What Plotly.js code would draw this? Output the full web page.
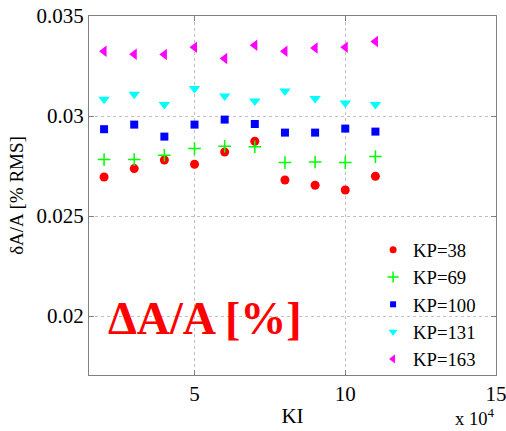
<!DOCTYPE html>
<html>
<head>
<meta charset="utf-8">
<script src="https://cdn.plot.ly/plotly-3.0.1.min.js"></script>
<style>html,body{margin:0;padding:0;background:#fff;}</style>
</head>
<body>
<div id="chart" style="width:506px;height:431px;"></div>
<script>
const KI = [2, 3, 4, 5, 6, 7, 8, 9, 10, 11];
const kp38  = [0.02695, 0.02737, 0.0278, 0.02759, 0.0282, 0.02874, 0.0268, 0.02654, 0.0263, 0.02699];
const kp69  = [0.02782, 0.02782, 0.02804, 0.02837, 0.02849, 0.02846, 0.02767, 0.0277, 0.02767, 0.02797];
const kp100 = [0.02934, 0.02957, 0.02897, 0.02957, 0.02982, 0.0296, 0.02917, 0.02917, 0.02937, 0.02922];
const kp131 = [0.03084, 0.03109, 0.03057, 0.03137, 0.031, 0.03075, 0.03125, 0.03087, 0.03065, 0.03057];
const kp163 = [0.03324, 0.03309, 0.03307, 0.03344, 0.03287, 0.03354, 0.03324, 0.0334, 0.03344, 0.03372];
const seriesNames = ["KP=38", "KP=69", "KP=100", "KP=131", "KP=163"];
const xTickVals = [5, 10, 15];
const xTickText = ["5", "10", "15"];
const yTickVals = [0.02, 0.025, 0.03, 0.035];
const yTickText = ["0.02", "0.025", "0.03", "0.035"];

const serif = "'Liberation Serif', 'Times New Roman', Times, serif";
const styles = [
  {symbol: "circle", color: "#ff0000", size: 9, line: {width: 0}},
  {symbol: "cross-thin", color: "#00ff00", size: 9, line: {color: "#00ff00", width: 1.5}},
  {symbol: "square", color: "#0000ff", size: 8, line: {width: 0}},
  {symbol: "triangle-down", color: "#00ffff", size: 10, line: {width: 0}},
  {symbol: "triangle-left", color: "#ff00ff", size: 10, line: {width: 0}}
];
const legendSizes = [7, 8, 6, 8, 8];
const ys = [kp38, kp69, kp100, kp131, kp163];
const traces = [];
ys.forEach((y, i) => {
  traces.push({
    x: KI, y: y, type: "scatter", mode: "markers", name: seriesNames[i],
    legendgroup: "g" + i, showlegend: false, marker: styles[i]
  });
});
ys.forEach((y, i) => {
  traces.push({
    x: [null], y: [null], type: "scatter", mode: "markers", name: seriesNames[i],
    legendgroup: "g" + i, showlegend: true,
    marker: Object.assign({}, styles[i], {size: legendSizes[i]})
  });
});

const axisCommon = {
  showline: true, linecolor: "#808080", linewidth: 1, mirror: "ticks",
  ticks: "inside", ticklen: 5, tickcolor: "#808080",
  showgrid: true, gridcolor: "#c0c0c0", griddash: "dot", gridwidth: 1,
  zeroline: false, ticklabeloverflow: "allow",
  tickfont: {family: serif, size: 21, color: "#000"}
};
const layout = {
  width: 506, height: 431,
  margin: {l: 89, r: 10, t: 16, b: 56},
  paper_bgcolor: "#fff", plot_bgcolor: "#fff",
  showlegend: true,
  legend: {x: 0.698, y: 0.401, xanchor: "left", yanchor: "top", bgcolor: "rgba(0,0,0,0)",
           font: {family: serif, size: 18.7, color: "#000"}, tracegroupgap: 0, itemsizing: "trace"},
  xaxis: Object.assign({}, axisCommon, {range: [1.5, 15], tickvals: xTickVals, ticktext: xTickText,
    title: {text: "KI", font: {family: serif, size: 21, color: "#000"}, standoff: 3}}),
  yaxis: Object.assign({}, axisCommon, {range: [0.01705, 0.035], tickvals: yTickVals, ticktext: yTickText,
    title: {text: "δA/A [% RMS]", font: {family: serif, size: 19, color: "#000"}, standoff: 7}}),
  annotations: [
    {xref: "paper", yref: "paper", x: 1.0, y: -0.155, xanchor: "right", yanchor: "bottom",
     text: "x 10<sup>4</sup>", showarrow: false, font: {family: serif, size: 18.5, color: "#000"}},
    {xref: "paper", yref: "paper", x: 0.285, y: 0.156, xanchor: "center", yanchor: "middle",
     text: "<b>ΔA/A [%]</b>", showarrow: false, font: {family: serif, size: 46, color: "#ff0000"}}
  ]
};
Plotly.newPlot("chart", traces, layout, {displayModeBar: false, staticPlot: true});
</script>
</body>
</html>
